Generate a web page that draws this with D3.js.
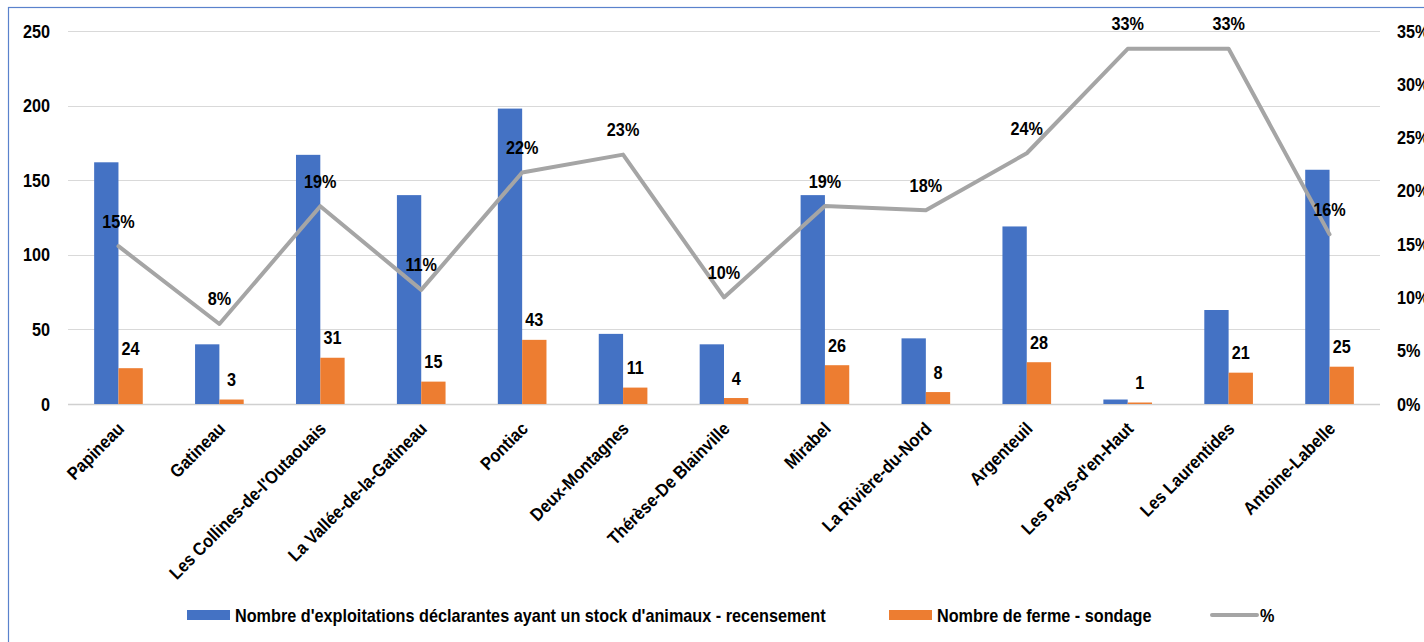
<!DOCTYPE html>
<html>
<head>
<meta charset="utf-8">
<script src="https://cdn.jsdelivr.net/npm/d3@7"></script>
<style>
  html, body { margin: 0; padding: 0; background: #fff; }
  svg { display: block; }
</style>
</head>
<body>
<svg id="chart" width="1424" height="642"></svg>
<script>
const categories = ["Papineau", "Gatineau", "Les Collines-de-l'Outaouais", "La Vallée-de-la-Gatineau",
  "Pontiac", "Deux-Montagnes", "Thérèse-De Blainville", "Mirabel", "La Rivière-du-Nord",
  "Argenteuil", "Les Pays-d'en-Haut", "Les Laurentides", "Antoine-Labelle"];
const recensement = [162, 40, 167, 140, 198, 47, 40, 140, 44, 119, 3, 63, 157];
const sondage = [24, 3, 31, 15, 43, 11, 4, 26, 8, 28, 1, 21, 25];
const pourcentage = [0.1481, 0.0751, 0.1856, 0.1071, 0.2172, 0.2340, 0.1000, 0.1857, 0.1818, 0.2353, 0.3333, 0.3333, 0.1592];
const leftTicks = [0, 50, 100, 150, 200, 250];
const rightTicks = [0, 0.05, 0.10, 0.15, 0.20, 0.25, 0.30, 0.35];
const seriesNames = ["Nombre d'exploitations déclarantes ayant un stock d'animaux - recensement",
  "Nombre de ferme - sondage", "%"];

function hasFont(name) {
  const c = document.createElement("canvas").getContext("2d");
  const s = "Nombre d'exploitations déclarantes";
  c.font = "bold 18px monospace";
  const a = c.measureText(s).width;
  c.font = "bold 18px '" + name + "', monospace";
  const b = c.measureText(s).width;
  return Math.abs(a - b) > 0.5;
}
let family, sx;
if (hasFont("Liberation Sans Narrow")) { family = "'Liberation Sans Narrow', 'Arial Narrow', sans-serif"; sx = 1; }
else { family = "'Liberation Sans', Arial, sans-serif"; sx = 0.82; }
const FS = 18;

// calibrate horizontal stretch so the legend text spans its reference width (~591px)
(function () {
  const c = document.createElement("canvas").getContext("2d");
  c.font = `bold ${FS}px ${family}`;
  const w = c.measureText(seriesNames[0]).width * sx;
  if (w > 0) sx = sx * (591 / w);
})();

const svg = d3.select("#chart");
const m = { left: 68, right: 1380, top: 31, bottom: 404 };

svg.append("rect").attr("x", 8.5).attr("y", 7.5).attr("width", 2000).attr("height", 2000)
  .attr("fill", "#fff").attr("stroke", "#5a82cc").attr("stroke-width", 1.2);

const x = d3.scaleBand().domain(categories).range([m.left, m.right]).paddingInner(0).paddingOuter(0);
const inner = d3.scaleBand().domain([0, 1]).range([0, x.bandwidth()]).paddingInner(0).paddingOuter(1.075);
const yL = d3.scaleLinear().domain([0, 250]).range([m.bottom, m.top]);
const yR = d3.scaleLinear().domain([0, 0.35]).range([m.bottom, m.top]);

function txt(parent, px, py, s, anchor, extra) {
  return parent.append("text")
    .attr("transform", `translate(${px},${py})${extra || ""} scale(${sx},1)`)
    .attr("text-anchor", anchor)
    .attr("font-family", family)
    .attr("font-weight", "bold")
    .attr("font-size", FS)
    .attr("fill", "#000")
    .text(s);
}

const grid = svg.append("g");
leftTicks.forEach(t => {
  grid.append("line").attr("x1", m.left).attr("x2", m.right)
    .attr("y1", Math.round(yL(t)) + 0.5).attr("y2", Math.round(yL(t)) + 0.5)
    .attr("stroke", t === 0 ? "#d0d0d0" : "#d9d9d9").attr("stroke-width", t === 0 ? 1.5 : 1);
});

const axL = svg.append("g");
leftTicks.forEach(t => txt(axL, 50, yL(t) + 6.5, String(t), "end"));
const axR = svg.append("g");
const pf = d3.format(".0%");
rightTicks.forEach(t => txt(axR, 1397, yR(t) + 6.5, pf(t), "start"));

const bars = svg.append("g");
bars.selectAll("rect.b").data(recensement).join("rect").attr("class", "b")
  .attr("x", (d, i) => x(categories[i]) + inner(0))
  .attr("width", inner.bandwidth())
  .attr("y", d => yL(d)).attr("height", d => yL(0) - yL(d))
  .attr("fill", "#4472c4");
bars.selectAll("rect.o").data(sondage).join("rect").attr("class", "o")
  .attr("x", (d, i) => x(categories[i]) + inner(1))
  .attr("width", inner.bandwidth())
  .attr("y", d => yL(d)).attr("height", d => yL(0) - yL(d))
  .attr("fill", "#ed7d31");

const vl = svg.append("g");
sondage.forEach((d, i) => txt(vl, x(categories[i]) + inner(1) + inner.bandwidth() / 2, yL(d) - 13.5, String(d), "middle"));

const cx = i => x(categories[i]) + x.bandwidth() / 2;
const line = d3.line().x((d, i) => cx(i)).y(d => yR(d));
svg.append("path").datum(pourcentage).attr("d", line)
  .attr("fill", "none").attr("stroke", "#a5a5a5").attr("stroke-width", 4)
  .attr("stroke-linejoin", "round").attr("stroke-linecap", "round");

const pl = svg.append("g");
pourcentage.forEach((d, i) => txt(pl, cx(i), yR(d) - 18.5, pf(d), "middle"));

const xl = svg.append("g");
categories.forEach((c, i) => {
  txt(xl, cx(i) - 3, 420, c, "end", " rotate(-45)").attr("dy", 14);
});

const lg = svg.append("g");
lg.append("rect").attr("x", 187).attr("y", 610).attr("width", 43).attr("height", 10).attr("fill", "#4472c4");
txt(lg, 235, 621.5, seriesNames[0], "start");
lg.append("rect").attr("x", 889).attr("y", 610).attr("width", 43).attr("height", 10).attr("fill", "#ed7d31");
txt(lg, 937, 621.5, seriesNames[1], "start");
lg.append("line").attr("x1", 1212).attr("x2", 1257).attr("y1", 615).attr("y2", 615)
  .attr("stroke", "#a5a5a5").attr("stroke-width", 4).attr("stroke-linecap", "round");
txt(lg, 1260, 621.5, seriesNames[2], "start");
</script>
</body>
</html>
